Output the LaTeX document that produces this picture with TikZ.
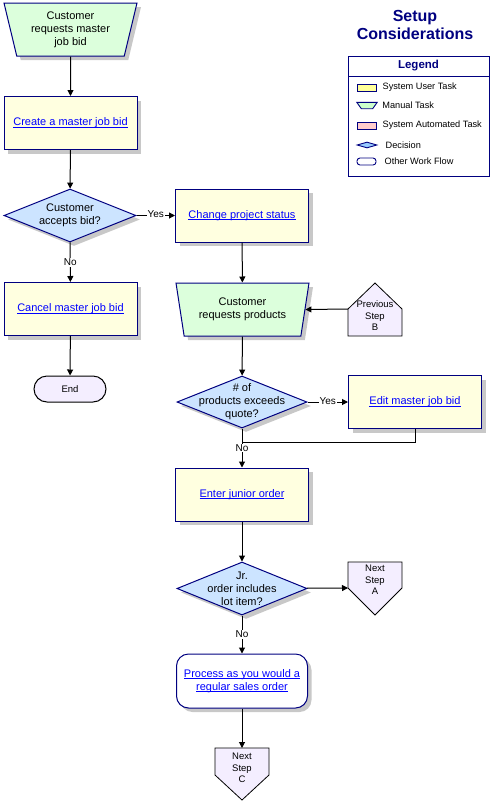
\documentclass[tikz,border=0pt]{standalone}
\usepackage{fontspec}
\setmainfont{Liberation Sans}
\usetikzlibrary{arrows.meta, positioning, shapes.geometric, shadows}

\definecolor{navy}{RGB}{0,0,128}
\definecolor{taskyellow}{RGB}{255,255,224}
\definecolor{mangreen}{RGB}{220,255,220}
\definecolor{decblue}{RGB}{204,228,255}
\definecolor{steplilac}{RGB}{244,238,255}
\definecolor{shadowgray}{RGB}{200,200,200}
\definecolor{linkblue}{RGB}{0,0,255}
\definecolor{legyellow}{RGB}{255,255,153}
\definecolor{leggreen}{RGB}{204,255,204}
\definecolor{legpink}{RGB}{255,204,204}
\definecolor{legblue}{RGB}{153,204,255}

\newsavebox{\lnkbox}
\newcommand{\lnk}[1]{\textcolor{linkblue}{\sbox{\lnkbox}{#1}\rlap{\rule[-1.8pt]{\wd\lnkbox}{0.7pt}}\usebox{\lnkbox}}}

\tikzset{
  flowtext/.style={font=\fontsize{11}{13}\selectfont, align=center},
  smalltext/.style={font=\fontsize{9.5}{11.5}\selectfont, align=center},
  shadowed/.style={drop shadow={shadow xshift=4pt, shadow yshift=-4pt, fill=shadowgray, opacity=1}},
  usertask/.style={rectangle, draw=navy, line width=1pt, fill=taskyellow, shadowed, flowtext,
    minimum width=133pt, minimum height=53pt},
  manualtask/.style={trapezium, trapezium angle=70.5, shape border rotate=180, trapezium stretches body,
    draw=navy, line width=1pt, fill=mangreen, shadowed, flowtext, minimum width=133pt, minimum height=53pt, inner sep=0pt},
  decision/.style={diamond, draw=navy, line width=1pt, fill=decblue, shadowed,
    minimum width=132pt, minimum height=53pt, inner sep=0pt},
  process/.style={rectangle, rounded corners=12pt, draw=navy, line width=1pt, fill=white, shadowed, flowtext,
    minimum width=131pt, minimum height=54pt},
  terminal/.style={rectangle, rounded corners=13pt, draw=black, line width=1pt, fill=steplilac, smalltext,
    minimum width=72pt, minimum height=26pt},
  stepshape/.style={draw=black, line width=0.8pt, fill=steplilac},
  flow/.style={-{Triangle[length=6pt,width=6pt]}, line width=1pt},
  yesno/.style={fill=white, inner sep=1pt, font=\fontsize{10}{12}\selectfont},
  legtext/.style={font=\fontsize{9.2}{11}\selectfont, inner sep=0pt},
  legswatch/.style={draw=navy, line width=0.9pt, inner sep=0pt, minimum width=19pt, minimum height=7pt}
}

\begin{document}
\begin{tikzpicture}[x=1pt, y=-1pt]
  \useasboundingbox (0,0) rectangle (492,804);

  % title and legend
  \node[font=\fontsize{16}{18}\selectfont\bfseries, text=navy, align=center] (title) at (415,25) {Setup\\Considerations};
  \node[draw=navy, line width=1pt, minimum width=141pt, minimum height=120pt, inner sep=0pt, anchor=north west] (legend) at (348,56) {};
  \draw[navy, line width=1pt] (legend.west |- 0,76) -- (legend.east |- 0,76);
  \node[font=\fontsize{11.5}{13}\selectfont\bfseries, text=navy] (legendtitle) at (418.5,66) {Legend};

  \node[legswatch, fill=legyellow] (lusr) at (366.5,87.5) {};
  \node[legtext, right=6pt of lusr] (lusrtext) {System User Task};
  \node[inner sep=0pt, minimum width=20pt, minimum height=6pt] (lman) at (367,105.5) {};
  \draw[navy, line width=0.9pt, fill=leggreen] (lman.north west) -- (lman.north east)
    -- ([xshift=-4.5pt]lman.south east) -- ([xshift=4.5pt]lman.south west) -- cycle;
  \node[legtext, right=5pt of lman] (lmantext) {Manual Task};
  \node[legswatch, fill=legpink] (lauto) at (366.5,125.5) {};
  \node[legtext, right=6pt of lauto] (lautotext) {System Automated Task};
  \node[legswatch, diamond, fill=legblue, minimum width=20pt, minimum height=6pt] (ldec) at (367,145) {};
  \node[legtext, right=8pt of ldec] (ldectext) {Decision};
  \node[legswatch, rounded corners=3pt, fill=white] (lother) at (366.5,161.5) {};
  \node[legtext, right=8pt of lother] (lothertext) {Other Work Flow};

  % nodes
  \node[manualtask] (mjbreq) at (70.5,29.5) {Customer\\requests master\\job bid};
  \node[usertask] (createbid) at (70.5,123) {\lnk{Create a master job bid}};
  \node[decision, label={[flowtext]center:{Customer\\accepts bid?}}] (accept) at (70,215.5) {};
  \node[usertask] (status) at (242,215.5) {\lnk{Change project status}};
  \node[usertask] (cancelbid) at (70.5,309) {\lnk{Cancel master job bid}};
  \node[terminal] (end) at (70,389) {End};
  \node[manualtask] (prodreq) at (242.5,309.5) {Customer\\requests products};
  \node[decision, minimum width=130pt, minimum height=52pt,
    label={[flowtext]center:{\# of\\products exceeds\\quote?}}] (exceeds) at (242,402) {};
  \node[usertask] (editbid) at (415,402) {\lnk{Edit master job bid}};
  \node[usertask] (junior) at (242,494.5) {\lnk{Enter junior order}};
  \node[decision, minimum width=130pt,
    label={[flowtext]center:{Jr.\\order includes\\lot item?}}] (lotitem) at (242,588.5) {};
  \node[process] (regular) at (242,681) {\lnk{Process as you would a}\\\lnk{regular sales order}};

  % off-page steps
  \draw[stepshape] (348,336) -- (348,309) coordinate (prevBleft) -- (375,283) -- (402,309) -- (402,336) -- cycle;
  \node[smalltext] (prevB) at (375,316) {Previous\\Step\\B};
  \draw[stepshape] (348,562) -- (402,562) -- (402,588) -- (375,615) -- (348,588) coordinate (nextAleft) -- cycle;
  \node[smalltext] (nextA) at (375,580) {Next\\Step\\A};
  \draw[stepshape] (215,748) -- (269,748) -- (269,775) -- (242,800) -- (215,775) -- cycle;
  \coordinate (nextCtop) at (242,748);
  \node[smalltext] (nextC) at (242,768) {Next\\Step\\C};
  \coordinate (merge) at (242,442);

  % edges
  \draw[flow] (mjbreq) -- (createbid);
  \draw[flow] (createbid) -- (accept);
  \draw[flow] (accept) -- node[yesno, yshift=1pt] {Yes} (status);
  \draw[flow] (accept) -- node[yesno] {No} (cancelbid);
  \draw[flow] (cancelbid) -- (end);
  \draw[flow] (status) -- (prodreq);
  \draw[flow] (prevBleft) -- (prodreq.east);
  \draw[flow] (prodreq) -- (exceeds);
  \draw[flow] (exceeds) -- node[yesno, yshift=1pt] {Yes} (editbid);
  \draw[line width=1pt] (editbid.south) |- (merge);
  \draw[flow] (exceeds) -- node[yesno] {No} (junior);
  \draw[flow] (junior) -- (lotitem);
  \draw[flow] (lotitem) -- (nextAleft);
  \draw[flow] (lotitem) -- node[yesno] {No} (regular);
  \draw[flow] (regular) -- (nextCtop);
\end{tikzpicture}
\end{document}
